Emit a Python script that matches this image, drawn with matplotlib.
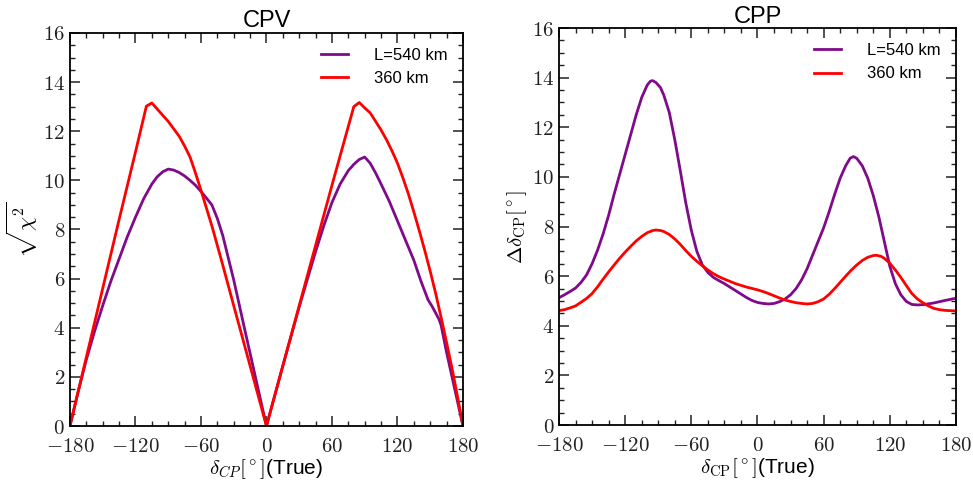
import matplotlib
matplotlib.use("Agg")
import matplotlib.pyplot as plt
from matplotlib.ticker import MultipleLocator, FuncFormatter

plt.rcParams['font.family'] = ['Liberation Sans', 'DejaVu Sans']
plt.rcParams['mathtext.fontset'] = 'cm'

# CPV : sqrt(chi^2) vs true delta_CP
cpv_x_540 = [-180, -172.5, -165, -157.5, -150, -142.5, -135, -127.5, -120, -112.5, -105, -100, -95, -90, -85, -80,
             -75, -70, -65, -60, -55, -50, -45, -40, -30, -20, -10, 0,
             15, 30, 45, 52.5, 60, 67.5, 75, 80, 85, 90, 95, 100, 105, 112.5, 120, 127.5, 135, 141.5, 148, 152, 155,
             158, 160, 165, 172.5, 180]
cpv_y_540 = [0, 1.4, 2.7, 3.85, 4.9, 5.9, 6.8, 7.7, 8.5, 9.25, 9.85, 10.15, 10.35, 10.46, 10.42, 10.32,
             10.18, 10.0, 9.8, 9.55, 9.28, 9.0, 8.45, 7.75, 5.95, 3.95, 1.97, 0,
             2.45, 4.85, 7.1, 8.15, 9.1, 9.85, 10.4, 10.65, 10.85, 10.95, 10.7, 10.3, 9.85, 9.15, 8.35, 7.55, 6.75,
             5.9, 5.14, 4.85, 4.6, 4.35, 4.1, 3.0, 1.5, 0]

cpv_x_360 = [-180, -165, -150, -135, -120, -110, -105, -100, -95, -90, -85, -80, -75, -70, -65, -60, -50, -40,
             -30, -20, -10, 0,
             15, 30, 45, 60, 75, 80, 85, 90, 95, 100, 105, 110, 115, 120, 125, 130, 135, 140, 145, 150, 155, 160,
             165, 170, 175, 180]
cpv_y_360 = [0, 2.8, 5.6, 8.4, 11.15, 13.02, 13.15, 12.9, 12.65, 12.4, 12.1, 11.8, 11.4, 10.95, 10.3, 9.6, 8.15, 6.55,
             4.9, 3.27, 1.63, 0,
             2.45, 4.9, 7.35, 9.8, 12.2, 13.0, 13.17, 12.95, 12.75, 12.4, 12.05, 11.65, 11.2, 10.7, 10.1, 9.45, 8.72,
             7.95, 7.15, 6.3, 5.4, 4.42, 3.4, 2.35, 1.2, 0]

# CPP : precision on delta_CP
cpp_x_540 = [-180, -175, -170, -165, -160, -155, -150, -145, -140, -135, -130, -125, -120, -115, -110, -105, -100,
             -97, -95, -92, -88, -85, -80, -75, -70, -65, -60, -55, -50, -45, -40, -35, -30, -20, -10, -5, 0, 5,
             10, 15, 20, 25, 30, 35, 40, 45, 50, 55, 60, 65, 70, 75, 80, 84, 87, 90, 95, 100, 105, 110, 115, 120,
             125, 130, 135, 140, 145, 150, 160, 170, 180]
cpp_y_540 = [5.13, 5.25, 5.38, 5.52, 5.75, 6.05, 6.5, 7.05, 7.7, 8.45, 9.3, 10.1, 10.9, 11.7, 12.5, 13.2, 13.7,
             13.86, 13.88, 13.8, 13.6, 13.3, 12.6, 11.5, 10.25, 8.95, 7.85, 7.0, 6.45, 6.15, 5.95, 5.82, 5.7, 5.42,
             5.14, 5.02, 4.94, 4.9,
             4.88, 4.9, 4.97, 5.08, 5.25, 5.5, 5.85, 6.3, 6.85, 7.4, 7.95, 8.6, 9.3, 9.95, 10.45, 10.75, 10.82, 10.75,
             10.45, 9.95, 9.25, 8.4, 7.4, 6.4, 5.7, 5.25, 4.98, 4.86, 4.84, 4.85, 4.92, 5.02, 5.11]

cpp_x_360 = [-180, -175, -170, -165, -160, -155, -150, -145, -140, -135, -130, -125, -120, -115, -110, -105, -100,
             -95, -92, -88, -85, -80, -75, -70, -65, -60, -55, -50, -45, -40, -35, -30, -20, -10, 0, 5, 10, 15, 20,
             25, 30, 35, 40, 45, 50, 55, 60, 65, 70, 75, 80, 85, 90, 95, 100, 105, 108, 112, 115, 120, 125, 130,
             135, 140, 145, 150, 155, 160, 165, 170, 180]
cpp_y_360 = [4.61, 4.65, 4.72, 4.8, 4.95, 5.1, 5.3, 5.57, 5.88, 6.17, 6.45, 6.72, 6.97, 7.2, 7.42, 7.6, 7.75,
             7.84, 7.86, 7.84, 7.8, 7.68, 7.5, 7.28, 7.03, 6.8, 6.6, 6.42, 6.25, 6.1, 5.98, 5.88, 5.7, 5.56, 5.45,
             5.38, 5.3, 5.21, 5.12,
             5.04, 4.98, 4.93, 4.9, 4.88, 4.9, 4.97, 5.08, 5.27, 5.5, 5.75, 6.0, 6.24, 6.45, 6.63, 6.76, 6.83, 6.84,
             6.8, 6.72, 6.52, 6.25, 5.95,
             5.62, 5.3, 5.08, 4.93, 4.8, 4.7, 4.65, 4.62, 4.6]

x_ticks = [-180, -120, -60, 0, 60, 120, 180]
lbl_540 = 'L=540 km'
lbl_360 = '360 km'
purple = '#7f0a8a'
red = '#ff0000'

fig = plt.figure(figsize=(9.73, 4.83), dpi=100)
ax1 = fig.add_axes([0.0719, 0.118, 0.4039, 0.8137])
ax2 = fig.add_axes([0.5745, 0.120, 0.4080, 0.8220])

mathfmt = FuncFormatter(lambda v, p: r'$%g$' % v)


def style(ax):
    ax.set_xlim(-180, 180)
    ax.set_ylim(0, 16)
    ax.set_xticks(x_ticks)
    ax.xaxis.set_minor_locator(MultipleLocator(15))
    ax.yaxis.set_major_locator(MultipleLocator(2))
    ax.yaxis.set_minor_locator(MultipleLocator(0.5))
    ax.xaxis.set_major_formatter(mathfmt)
    ax.yaxis.set_major_formatter(mathfmt)
    ax.tick_params(which='both', direction='in', top=True, right=True, labelsize=15, colors='#222222')
    ax.tick_params(which='major', length=7, width=1.1)
    ax.tick_params(which='minor', length=3.5, width=1.0)
    ax.tick_params(axis='x', which='major', pad=8)
    for s in ax.spines.values():
        s.set_linewidth(1.3)
    ax.legend(loc='upper right', frameon=False, fontsize=12, handlelength=1.6, handletextpad=1.6)


ax1.plot(cpv_x_540, cpv_y_540, color=purple, lw=2, label=lbl_540)
ax1.plot(cpv_x_360, cpv_y_360, color=red, lw=2, label=lbl_360)
ax1.set_title('CPV', fontsize=17, pad=4)
ax1.set_xlabel(r'$\delta_{CP}[^\circ]$(True)', fontsize=15, labelpad=1)
ax1.set_ylabel(r'$\sqrt{\chi^2}$', fontsize=16, labelpad=2)
style(ax1)

ax2.plot(cpp_x_540, cpp_y_540, color=purple, lw=2, label=lbl_540)
ax2.plot(cpp_x_360, cpp_y_360, color=red, lw=2, label=lbl_360)
ax2.set_title('CPP', fontsize=17, pad=2)
ax2.set_xlabel(r'$\delta_{\rm CP}[^\circ]$(True)', fontsize=15, labelpad=1)
ax2.set_ylabel(r'$\Delta\delta_{\rm CP}[^\circ]$', fontsize=15, labelpad=2)
style(ax2)

fig.savefig('out.png', dpi=100)
